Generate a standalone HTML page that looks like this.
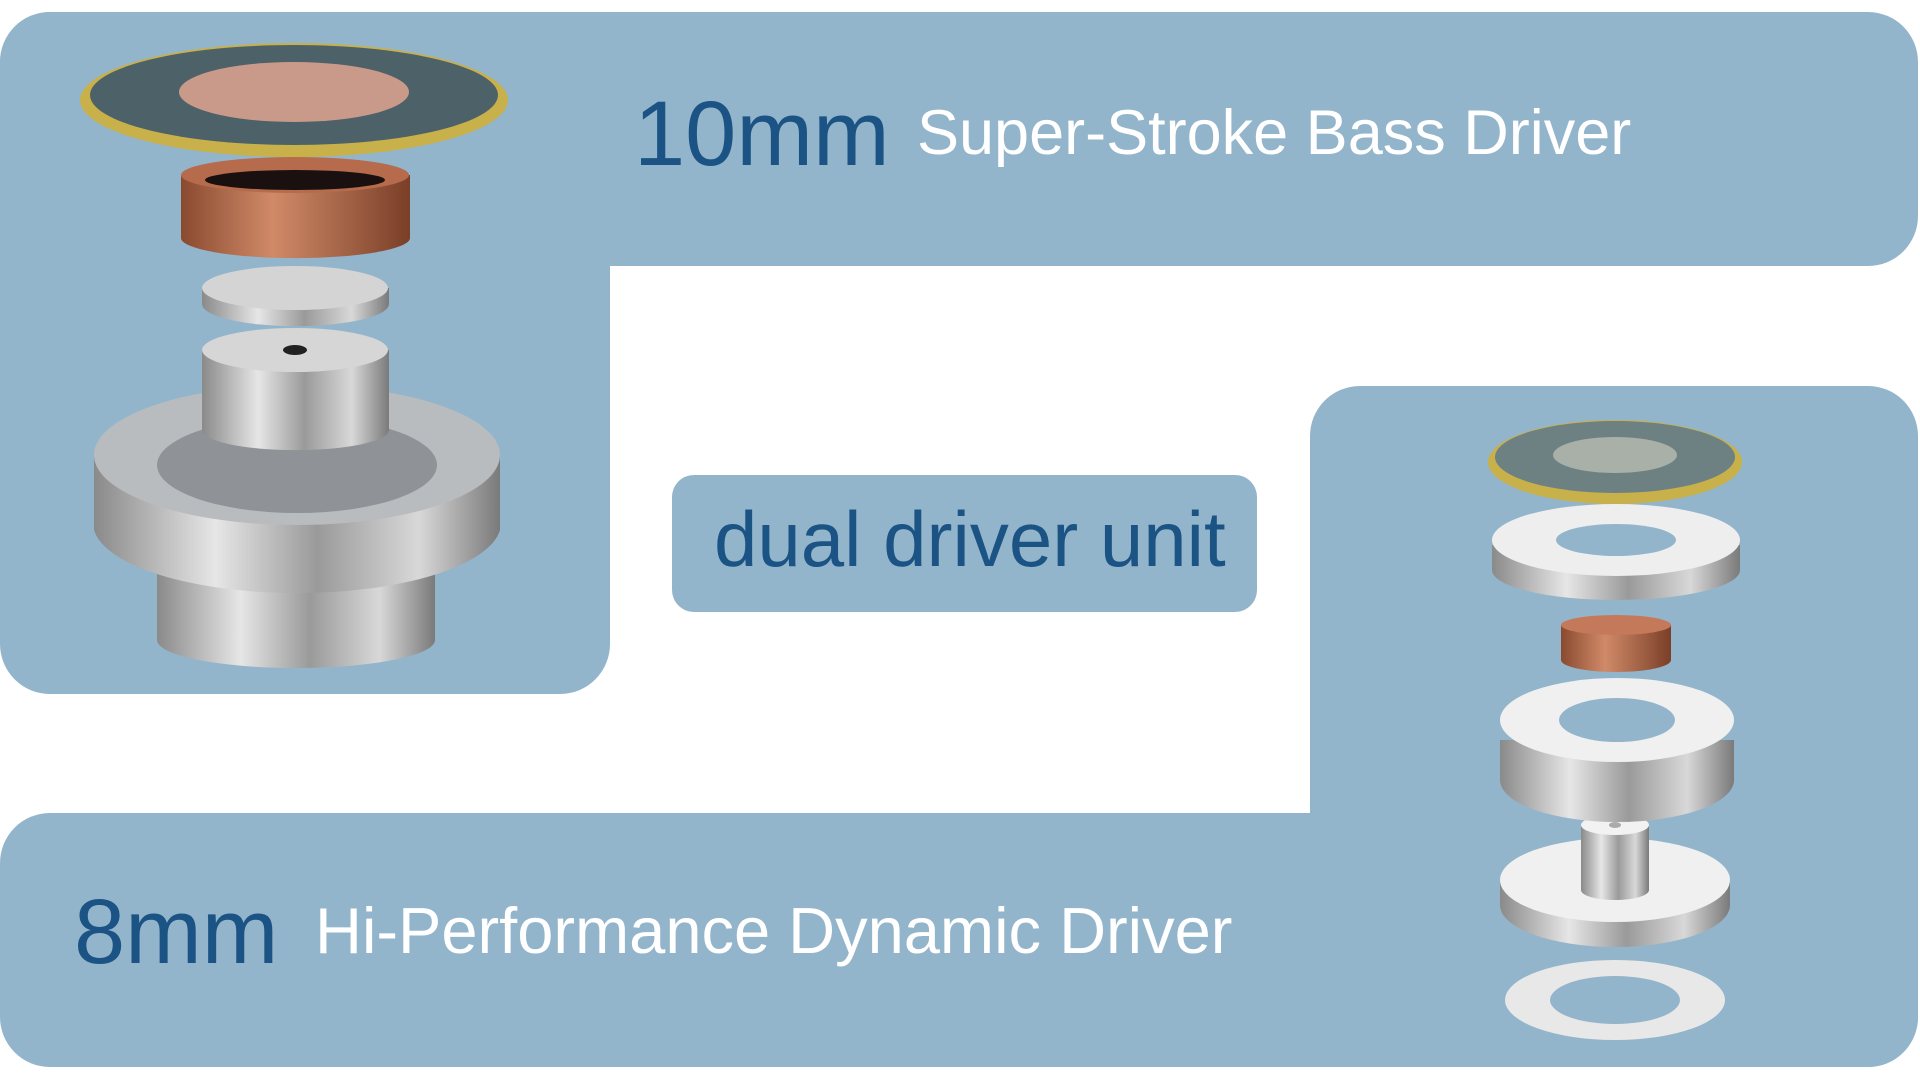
<!DOCTYPE html>
<html><head><meta charset="utf-8"><style>
html,body{margin:0;padding:0;background:#fff;width:1920px;height:1080px;overflow:hidden;font-family:"Liberation Sans",sans-serif}
.p{position:absolute;background:#93b5cb}
.t{position:absolute;white-space:nowrap}
</style></head><body>
<div class="p" style="left:0;top:12px;width:1918px;height:254px;border-radius:50px"></div>
<div class="p" style="left:0;top:12px;width:610px;height:682px;border-radius:50px"></div>
<div class="p" style="left:0;top:813px;width:1918px;height:254px;border-radius:50px"></div>
<div class="p" style="left:1310px;top:386px;width:608px;height:681px;border-radius:50px"></div>
<div class="p" style="left:672px;top:475px;width:585px;height:137px;border-radius:22px"></div>

<div class="t" style="left:634px;top:82px;font-size:92px;color:#1b5384">10mm</div>
<div class="t" style="left:917px;top:97px;font-size:63px;color:#fff">Super-Stroke Bass Driver</div>
<div class="t" style="left:714px;top:494px;font-size:78px;color:#1b5384">dual driver unit</div>
<div class="t" style="left:74px;top:880px;font-size:92px;color:#1b5384">8mm</div>
<div class="t" style="left:315px;top:893px;font-size:65px;color:#fff">Hi-Performance Dynamic Driver</div>

<svg width="1920" height="1080" style="position:absolute;left:0;top:0">
<defs>
<linearGradient id="m" x1="0" x2="1"><stop offset="0" stop-color="#8a8a8a"/><stop offset=".3" stop-color="#e6e6e6"/><stop offset=".55" stop-color="#9a9a9a"/><stop offset=".8" stop-color="#d8d8d8"/><stop offset="1" stop-color="#7a7a7a"/></linearGradient>
<linearGradient id="c" x1="0" x2="1"><stop offset="0" stop-color="#8a4a30"/><stop offset=".4" stop-color="#d08a68"/><stop offset="1" stop-color="#7a3f28"/></linearGradient>
</defs>
<path d="M157 560 L157 640 A139 28 0 0 0 435 640 L435 560 Z" fill="url(#m)"/>
<path d="M94 455 L94 530 A204 70 0 0 0 500 530 L500 455 Z" fill="url(#m)"/>
<ellipse cx="297" cy="455" rx="203" ry="70" fill="#b9bcbf"/>
<ellipse cx="297" cy="465" rx="140" ry="48" fill="#8f9397"/>
<path d="M202 350 L202 430 A93 20 0 0 0 389 430 L389 350 Z" fill="url(#m)"/>
<ellipse cx="295" cy="350" rx="93" ry="22" fill="#d6d6d6"/>
<ellipse cx="295" cy="350" rx="12" ry="5" fill="#222"/>
<path d="M202 288 L202 304 A93 22 0 0 0 389 304 L389 288 Z" fill="url(#m)"/>
<ellipse cx="295" cy="288" rx="93" ry="22" fill="#d4d4d4"/>
<path d="M181 175 L181 238 A114 20 0 0 0 410 238 L410 175 Z" fill="url(#c)"/>
<ellipse cx="295" cy="175" rx="114" ry="18" fill="#b56b4c"/>
<ellipse cx="295" cy="180" rx="90" ry="10" fill="#1a1010"/>
<ellipse cx="294" cy="100" rx="214" ry="57" fill="#c8b04a"/>
<ellipse cx="294" cy="95" rx="204" ry="50" fill="#4d6168"/>
<ellipse cx="294" cy="92" rx="115" ry="30" fill="#c99a8a"/>
<ellipse cx="1615" cy="1000" rx="110" ry="40" fill="#e8e8e8"/>
<ellipse cx="1615" cy="1000" rx="65" ry="24" fill="#93b5cb"/>
<path d="M1500 880 L1500 905 A115 42 0 0 0 1730 905 L1730 880 Z" fill="url(#m)"/>
<ellipse cx="1615" cy="880" rx="115" ry="42" fill="#f0f0f0"/>
<path d="M1581 825 L1581 890 A34 10 0 0 0 1649 890 L1649 825 Z" fill="url(#m)"/>
<ellipse cx="1615" cy="825" rx="34" ry="10" fill="#f2f2f2"/>
<ellipse cx="1615" cy="825" rx="6" ry="3" fill="#aaa"/>
<path d="M1500 740 L1500 780 A117 42 0 0 0 1734 780 L1734 740 Z" fill="url(#m)"/>
<ellipse cx="1617" cy="720" rx="117" ry="42" fill="#f0f0f0"/>
<ellipse cx="1617" cy="720" rx="58" ry="22" fill="#93b5cb"/>
<path d="M1561 625 L1561 660 A55 12 0 0 0 1671 660 L1671 625 Z" fill="url(#c)"/>
<ellipse cx="1616" cy="625" rx="55" ry="10" fill="#c47a5a"/>
<path d="M1492 545 L1492 570 A124 30 0 0 0 1740 570 L1740 545 Z" fill="url(#m)"/>
<ellipse cx="1616" cy="540" rx="124" ry="36" fill="#eeeeee"/>
<ellipse cx="1616" cy="540" rx="60" ry="16" fill="#93b5cb"/>
<ellipse cx="1615" cy="462" rx="127" ry="42" fill="#c8b04a"/>
<ellipse cx="1615" cy="457" rx="120" ry="36" fill="#6d8082"/>
<ellipse cx="1615" cy="455" rx="62" ry="18" fill="#a8b0a8"/>
</svg>
</body></html>
